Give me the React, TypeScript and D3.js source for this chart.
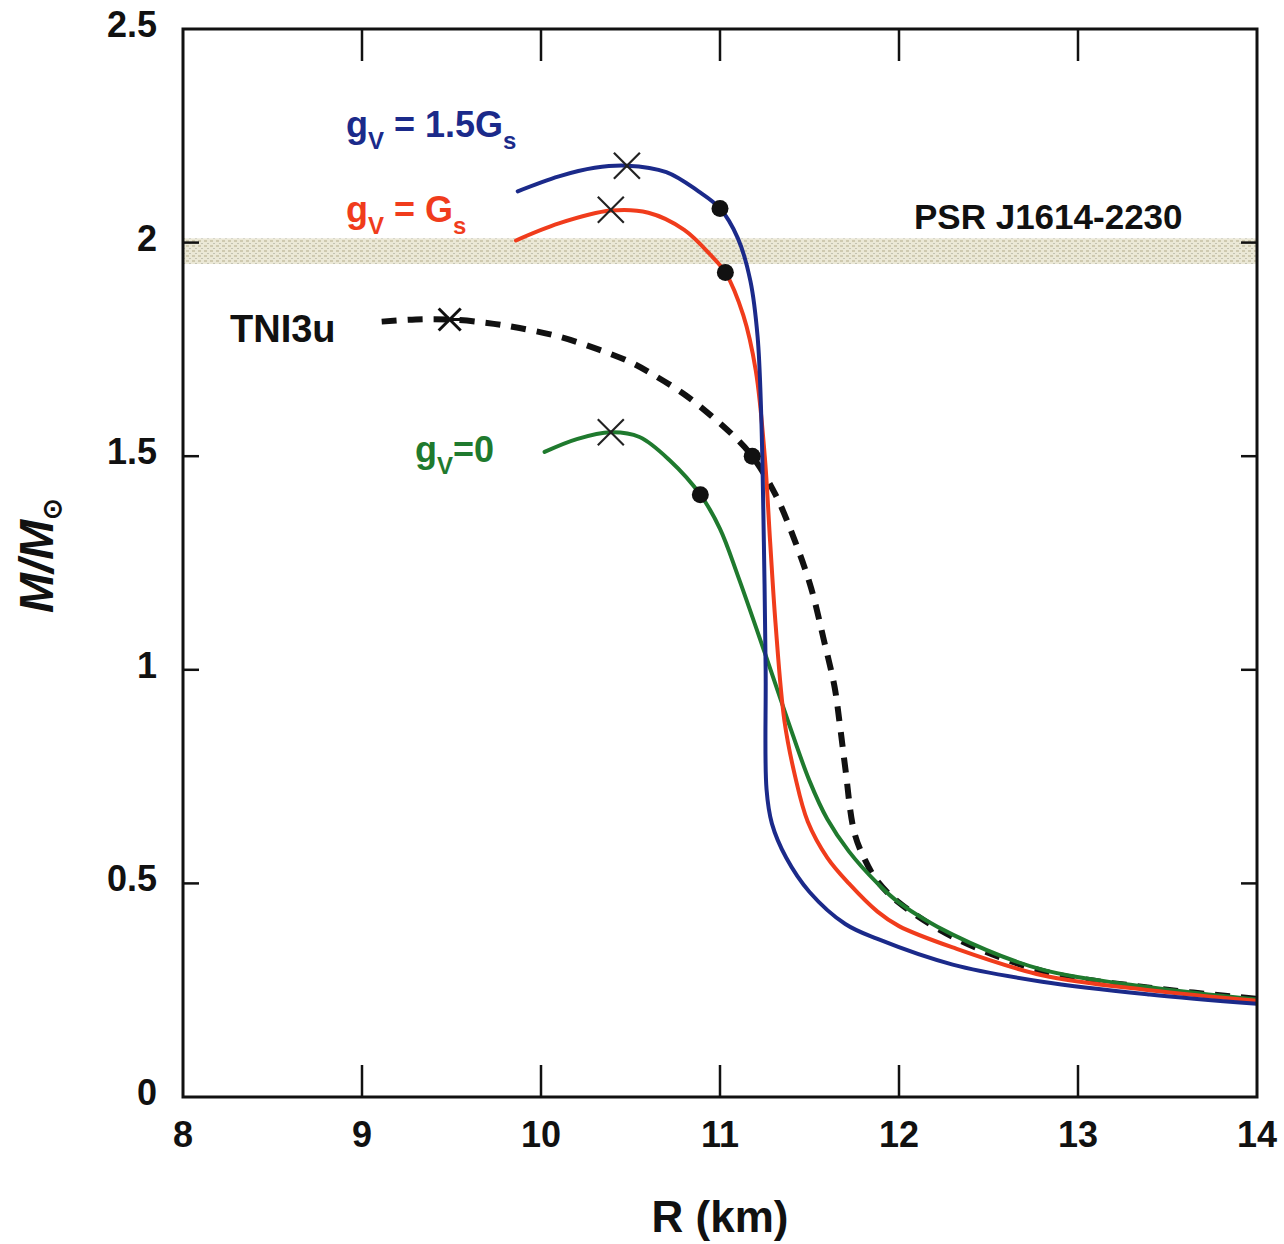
import React from "react";
import * as d3 from "d3";

// ---- data (R in km, M in solar masses) ----
const xTicks = [8, 9, 10, 11, 12, 13, 14];
const yTicks = [0, 0.5, 1, 1.5, 2, 2.5];
const yTickLabels = ["0", "0.5", "1", "1.5", "2", "2.5"];

const blueCurve: [number, number][] = [
  [9.87, 2.12], [10.1, 2.155], [10.3, 2.175], [10.48, 2.18], [10.7, 2.165], [10.88, 2.12],
  [11.0, 2.08], [11.1, 2.01], [11.17, 1.91], [11.21, 1.78], [11.23, 1.6], [11.245, 1.3],
  [11.255, 1.0], [11.26, 0.72], [11.29, 0.64], [11.37, 0.56], [11.5, 0.48], [11.7, 0.405],
  [11.88, 0.37], [12.3, 0.31], [12.8, 0.27], [13.4, 0.24], [14.0, 0.218],
];
const redCurve: [number, number][] = [
  [9.86, 2.005], [10.1, 2.045], [10.39, 2.075], [10.6, 2.07], [10.8, 2.03], [10.95, 1.97],
  [11.03, 1.93], [11.13, 1.83], [11.2, 1.7], [11.25, 1.5], [11.28, 1.3], [11.31, 1.11],
  [11.36, 0.88], [11.42, 0.75], [11.49, 0.645], [11.6, 0.56], [11.72, 0.5], [11.88, 0.434],
  [12.0, 0.4], [12.3, 0.35], [12.8, 0.285], [13.4, 0.25], [14.0, 0.225],
];
const greenCurve: [number, number][] = [
  [10.02, 1.51], [10.2, 1.54], [10.39, 1.556], [10.55, 1.545], [10.72, 1.49], [10.89, 1.41],
  [11.0, 1.33], [11.1, 1.22], [11.25, 1.04], [11.38, 0.88], [11.5, 0.74], [11.6, 0.65],
  [11.72, 0.575], [11.88, 0.5], [12.0, 0.455], [12.3, 0.38], [12.8, 0.298], [13.4, 0.257],
  [14.0, 0.228],
];
const tni3uCurve: [number, number][] = [
  [9.11, 1.815], [9.3, 1.82], [9.49, 1.82], [9.7, 1.812], [9.88, 1.8], [10.1, 1.78],
  [10.32, 1.75], [10.5, 1.72], [10.63, 1.69], [10.8, 1.645], [10.95, 1.595], [11.07, 1.55],
  [11.18, 1.5], [11.31, 1.41], [11.42, 1.3], [11.51, 1.19], [11.58, 1.07], [11.64, 0.96],
  [11.67, 0.87], [11.7, 0.77], [11.75, 0.62], [11.81, 0.555], [11.88, 0.505], [12.0, 0.455],
  [12.3, 0.375], [12.8, 0.295], [13.4, 0.256], [14.0, 0.23],
];

// maximum-mass crosses and filled-dot markers
const crosses: [number, number][] = [[10.48, 2.18], [10.39, 2.077], [10.39, 1.556]];
const starMarks: [number, number][] = [[9.49, 1.82]];
const dots: [number, number][] = [[11.0, 2.08], [11.03, 1.93], [10.89, 1.41], [11.18, 1.5]];

// PSR J1614-2230 band
const psrBand = { lo: 1.95, hi: 2.01 };

const BLUE = "#1b2a8a";
const RED = "#f03c1c";
const GREEN = "#1f7a2e";
const INK = "#111";
const FONT = "'Liberation Sans', Arial, Helvetica, sans-serif";

export default function App() {
  const W = 1284, H = 1244;
  const left = 183, right = 1257, top = 29, bottom = 1097;
  const x = d3.scaleLinear().domain([8, 14]).range([left, right]);
  const y = d3.scaleLinear().domain([0, 2.5]).range([bottom, top]);
  const line = d3
    .line<[number, number]>()
    .x((d) => x(d[0]))
    .y((d) => y(d[1]))
    .curve(d3.curveCatmullRom.alpha(0.5));

  const xs = 13;
  return (
    <svg width={W} height={H} style={{ display: "block", position: "absolute", left: 0, top: 0, background: "#fff" }}>
      <defs>
        <pattern id="stip" width="6" height="5" patternUnits="userSpaceOnUse">
          <rect width="6" height="5" fill="#ebe8d6" />
          <rect x="0" y="0" width="3" height="2" fill="#cfcab0" />
          <rect x="3" y="3" width="2" height="1" fill="#c2c2b2" />
        </pattern>
        <clipPath id="plot">
          <rect x={left} y={top} width={right - left} height={bottom - top} />
        </clipPath>
      </defs>

      {/* PSR band */}
      <rect x={left} y={y(psrBand.hi)} width={right - left} height={y(psrBand.lo) - y(psrBand.hi)} fill="url(#stip)" />

      <g clipPath="url(#plot)" fill="none" strokeLinecap="round">
        <path d={line(tni3uCurve) || ""} stroke={INK} strokeWidth={6} strokeDasharray="15 11" strokeLinecap="butt" />
        <path d={line(greenCurve) || ""} stroke={GREEN} strokeWidth={4} />
        <path d={line(redCurve) || ""} stroke={RED} strokeWidth={4} />
        <path d={line(blueCurve) || ""} stroke={BLUE} strokeWidth={4} />
      </g>

      {crosses.map((d, i) => (
        <g key={"c" + i} stroke="#222" strokeWidth={2.2}>
          <line x1={x(d[0]) - xs} y1={y(d[1]) - xs} x2={x(d[0]) + xs} y2={y(d[1]) + xs} />
          <line x1={x(d[0]) - xs} y1={y(d[1]) + xs} x2={x(d[0]) + xs} y2={y(d[1]) - xs} />
        </g>
      ))}
      {starMarks.map((d, i) => (
        <g key={"s" + i} stroke={INK} strokeWidth={3}>
          <line x1={x(d[0]) - 11} y1={y(d[1]) - 11} x2={x(d[0]) + 11} y2={y(d[1]) + 11} />
          <line x1={x(d[0]) - 11} y1={y(d[1]) + 11} x2={x(d[0]) + 11} y2={y(d[1]) - 11} />
          <line x1={x(d[0]) - 14} y1={y(d[1])} x2={x(d[0]) + 14} y2={y(d[1])} />
        </g>
      ))}
      {dots.map((d, i) => (
        <circle key={"d" + i} cx={x(d[0])} cy={y(d[1])} r={8.5} fill={INK} />
      ))}

      {/* frame */}
      <rect x={left} y={top} width={right - left} height={bottom - top} fill="none" stroke={INK} strokeWidth={3} />

      {/* ticks */}
      {xTicks.slice(1, -1).map((t) => (
        <g key={"xt" + t} stroke={INK} strokeWidth={2.5}>
          <line x1={x(t)} x2={x(t)} y1={bottom} y2={bottom - 32} />
          <line x1={x(t)} x2={x(t)} y1={top} y2={top + 32} />
        </g>
      ))}
      {yTicks.slice(1, -1).map((t) => (
        <g key={"yt" + t} stroke={INK} strokeWidth={2.5}>
          <line x1={left} x2={left + 16} y1={y(t)} y2={y(t)} />
          <line x1={right} x2={right - 16} y1={y(t)} y2={y(t)} />
        </g>
      ))}

      {/* tick labels */}
      <g fontFamily={FONT} fontWeight="bold" fontSize={36} fill={INK}>
        {xTicks.map((t) => (
          <text key={"xl" + t} x={x(t)} y={bottom + 50} textAnchor="middle">{t}</text>
        ))}
        {yTicks.map((t, i) => (
          <text key={"yl" + t} x={left - 26} y={y(t) + 8} textAnchor="end">{yTickLabels[i]}</text>
        ))}
      </g>

      {/* axis titles */}
      <text x={720} y={1232} textAnchor="middle" fontFamily={FONT} fontWeight="bold" fontSize={44} fill={INK}>R (km)</text>
      <text transform="translate(53,613) rotate(-90)" fontFamily={FONT} fontWeight="bold" fontStyle="italic" fontSize={48} fill={INK}>
        M/M<tspan fontSize={26} fontStyle="normal" dy={8}>⊙</tspan>
      </text>

      {/* curve labels */}
      <g fontFamily={FONT} fontWeight="bold">
        <text x={346} y={137} fontSize={36} fill={BLUE}>
          g<tspan fontSize={24} dy={12}>V</tspan><tspan dy={-12}> = 1.5G</tspan><tspan fontSize={24} dy={12}>s</tspan>
        </text>
        <text x={346} y={222} fontSize={36} fill={RED}>
          g<tspan fontSize={24} dy={12}>V</tspan><tspan dy={-12}> = G</tspan><tspan fontSize={24} dy={12}>s</tspan>
        </text>
        <text x={230} y={342} fontSize={38} fill={INK}>TNI3u</text>
        <text x={415} y={462} fontSize={36} fill={GREEN}>
          g<tspan fontSize={24} dy={12}>V</tspan><tspan dy={-12}>=0</tspan>
        </text>
        <text x={914} y={229} fontSize={35} fill={INK}>PSR J1614-2230</text>
      </g>
    </svg>
  );
}
